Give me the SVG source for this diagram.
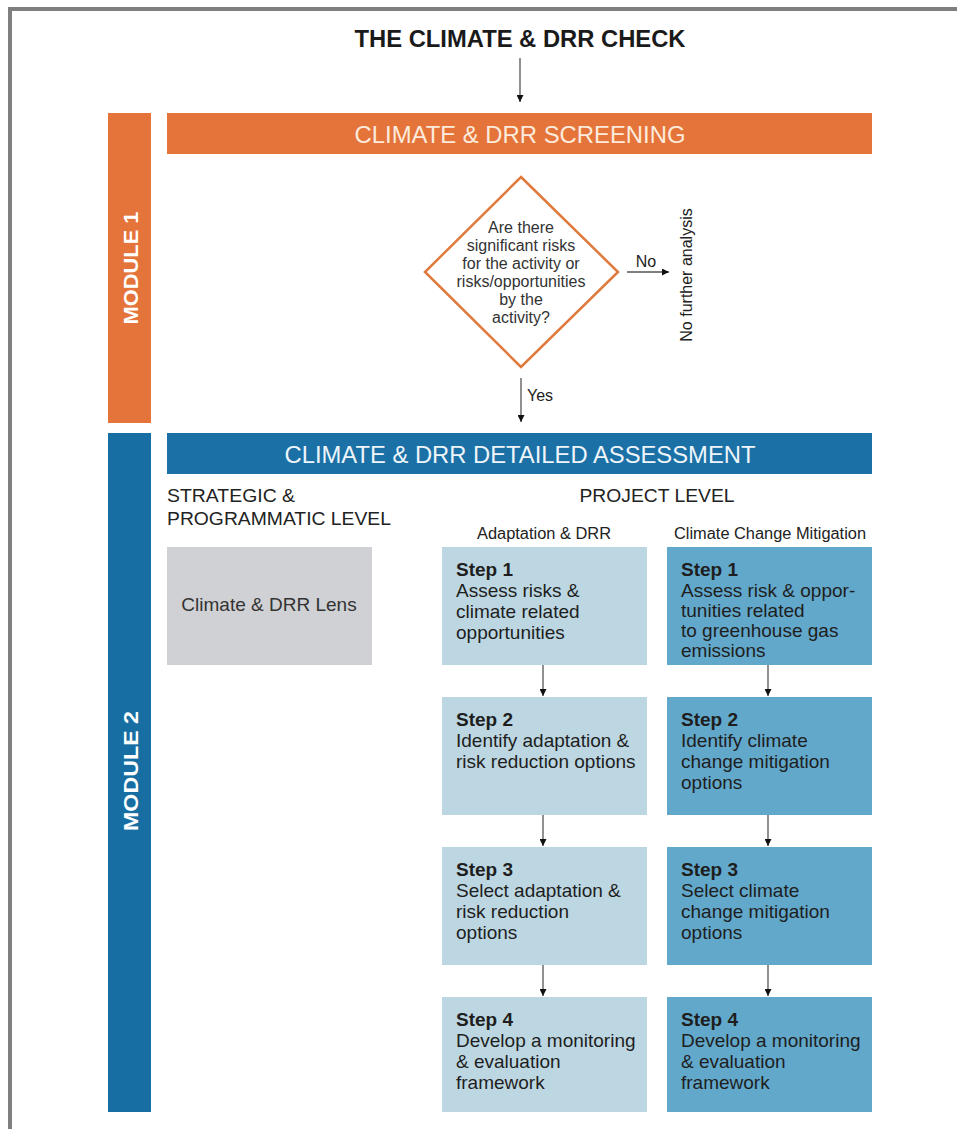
<svg xmlns="http://www.w3.org/2000/svg" width="957" height="1129" viewBox="0 0 957 1129">
<style>
.t{font-family:"Liberation Sans",Arial,sans-serif}
.box{font-family:"Liberation Sans",Arial,sans-serif;font-size:19px;fill:#1e1e1e}
.b{font-weight:bold}
.dm{font-family:"Liberation Sans",Arial,sans-serif;font-size:16px;fill:#333;text-anchor:middle}
.ln{stroke:#555;stroke-width:1.3;fill:none}
.light{fill:#bdd7e2}
.dark{fill:#62a8cb}
</style>
<defs>
<marker id="ah" viewBox="0 0 10 10" refX="10" refY="5" markerWidth="7" markerHeight="7" markerUnits="userSpaceOnUse" orient="auto">
<path d="M0,0 L10,5 L0,10 z" fill="#111"/>
</marker>
</defs>
<rect width="957" height="1129" fill="#fff"/>
<path d="M10,1129 V9 H957" fill="none" stroke="#7f7f7f" stroke-width="4"/>

<g id="title"><text class="t b" x="520" y="47" font-size="24" text-anchor="middle" fill="#1a1a1a" textLength="331" lengthAdjust="spacingAndGlyphs">THE CLIMATE &amp; DRR CHECK</text></g>

<g id="module1">
<rect x="108" y="113" width="43" height="310" fill="#e5743a"/>
<text class="t b" transform="translate(138,268) rotate(-90)" font-size="21" fill="#fff" text-anchor="middle" textLength="113" lengthAdjust="spacingAndGlyphs">MODULE 1</text>
</g>
<g id="screening">
<rect x="167" y="113" width="705" height="41" fill="#e5743a"/>
<text class="t" x="520" y="143" font-size="23" fill="#fcebdc" text-anchor="middle" textLength="331" lengthAdjust="spacingAndGlyphs">CLIMATE &amp; DRR SCREENING</text>
</g>
<g id="decision">
<polygon points="521,177 618,272 521,367 425,272" fill="#fff" stroke="#e07a3c" stroke-width="2.5"/>
<text class="dm" x="521" y="233">Are there</text>
<text class="dm" x="521" y="251">significant risks</text>
<text class="dm" x="521" y="269">for the activity or</text>
<text class="dm" x="521" y="287">risks/opportunities</text>
<text class="dm" x="521" y="305">by the</text>
<text class="dm" x="521" y="323">activity?</text>
</g>
<g id="no-further">
<text class="t" transform="translate(692,275) rotate(-90)" font-size="16" fill="#222" text-anchor="middle">No further analysis</text>
</g>

<g id="module2">
<rect x="108" y="433" width="43" height="679" fill="#176ea3"/>
<text class="t b" transform="translate(138,771) rotate(-90)" font-size="21" fill="#fff" text-anchor="middle" textLength="120" lengthAdjust="spacingAndGlyphs">MODULE 2</text>
</g>
<g id="assessment">
<rect x="167" y="433" width="705" height="41" fill="#1b70a6"/>
<text class="t" x="520" y="463" font-size="23" fill="#eef5fa" text-anchor="middle" textLength="471" lengthAdjust="spacingAndGlyphs">CLIMATE &amp; DRR DETAILED ASSESSMENT</text>
</g>
<g id="labels">
<text class="t" x="167" y="502" font-size="18.5" fill="#222" textLength="128" lengthAdjust="spacingAndGlyphs">STRATEGIC &amp;</text>
<text class="t" x="167" y="525" font-size="18.5" fill="#222" textLength="224" lengthAdjust="spacingAndGlyphs">PROGRAMMATIC LEVEL</text>
<text class="t" x="657" y="502" font-size="18.5" fill="#222" text-anchor="middle" textLength="155" lengthAdjust="spacingAndGlyphs">PROJECT LEVEL</text>
<text class="t" x="544" y="539" font-size="16" fill="#222" text-anchor="middle" textLength="134" lengthAdjust="spacingAndGlyphs">Adaptation &amp; DRR</text>
<text class="t" x="770" y="539" font-size="16" fill="#222" text-anchor="middle" textLength="192" lengthAdjust="spacingAndGlyphs">Climate Change Mitigation</text>
</g>
<g id="lens">
<rect x="167" y="547" width="205" height="118" fill="#cfd1d4"/>
<text class="t" x="269" y="611" font-size="19" fill="#333" text-anchor="middle">Climate &amp; DRR Lens</text>
</g>

<g id="a-step1">
<rect class="light" x="442" y="547" width="205" height="118"/>
<text class="box"><tspan class="b" x="456" y="576">Step 1</tspan><tspan x="456" y="597">Assess risks &amp;</tspan><tspan x="456" y="618">climate related</tspan><tspan x="456" y="639">opportunities</tspan></text>
</g>
<g id="a-step2">
<rect class="light" x="442" y="697" width="205" height="118"/>
<text class="box"><tspan class="b" x="456" y="726">Step 2</tspan><tspan x="456" y="747">Identify adaptation &amp;</tspan><tspan x="456" y="768">risk reduction options</tspan></text>
</g>
<g id="a-step3">
<rect class="light" x="442" y="847" width="205" height="118"/>
<text class="box"><tspan class="b" x="456" y="876">Step 3</tspan><tspan x="456" y="897">Select adaptation &amp;</tspan><tspan x="456" y="918">risk reduction</tspan><tspan x="456" y="939">options</tspan></text>
</g>
<g id="a-step4">
<rect class="light" x="442" y="997" width="205" height="115"/>
<text class="box"><tspan class="b" x="456" y="1026">Step 4</tspan><tspan x="456" y="1047">Develop a monitoring</tspan><tspan x="456" y="1068">&amp; evaluation</tspan><tspan x="456" y="1089">framework</tspan></text>
</g>

<g id="m-step1">
<rect class="dark" x="667" y="547" width="205" height="118"/>
<text class="box"><tspan class="b" x="681" y="576">Step 1</tspan><tspan x="681" y="597">Assess risk &amp; oppor-</tspan><tspan x="681" y="617">tunities related</tspan><tspan x="681" y="637">to greenhouse gas</tspan><tspan x="681" y="657">emissions</tspan></text>
</g>
<g id="m-step2">
<rect class="dark" x="667" y="697" width="205" height="118"/>
<text class="box"><tspan class="b" x="681" y="726">Step 2</tspan><tspan x="681" y="747">Identify climate</tspan><tspan x="681" y="768">change mitigation</tspan><tspan x="681" y="789">options</tspan></text>
</g>
<g id="m-step3">
<rect class="dark" x="667" y="847" width="205" height="118"/>
<text class="box"><tspan class="b" x="681" y="876">Step 3</tspan><tspan x="681" y="897">Select climate</tspan><tspan x="681" y="918">change mitigation</tspan><tspan x="681" y="939">options</tspan></text>
</g>
<g id="m-step4">
<rect class="dark" x="667" y="997" width="205" height="115"/>
<text class="box"><tspan class="b" x="681" y="1026">Step 4</tspan><tspan x="681" y="1047">Develop a monitoring</tspan><tspan x="681" y="1068">&amp; evaluation</tspan><tspan x="681" y="1089">framework</tspan></text>
</g>

<g id="connectors">
<line class="ln" x1="520" y1="58" x2="520" y2="102" marker-end="url(#ah)"/>
<line class="ln" x1="627" y1="272" x2="669" y2="272" marker-end="url(#ah)"/>
<text class="t" x="646" y="267" font-size="16" fill="#222" text-anchor="middle">No</text>
<line class="ln" x1="521" y1="378" x2="521" y2="422" marker-end="url(#ah)"/>
<text class="t" x="527" y="401" font-size="16" fill="#222">Yes</text>
<line class="ln" x1="543" y1="665" x2="543" y2="696" marker-end="url(#ah)"/>
<line class="ln" x1="543" y1="815" x2="543" y2="846" marker-end="url(#ah)"/>
<line class="ln" x1="543" y1="965" x2="543" y2="996" marker-end="url(#ah)"/>
<line class="ln" x1="768" y1="665" x2="768" y2="696" marker-end="url(#ah)"/>
<line class="ln" x1="768" y1="815" x2="768" y2="846" marker-end="url(#ah)"/>
<line class="ln" x1="768" y1="965" x2="768" y2="996" marker-end="url(#ah)"/>
</g>
</svg>
